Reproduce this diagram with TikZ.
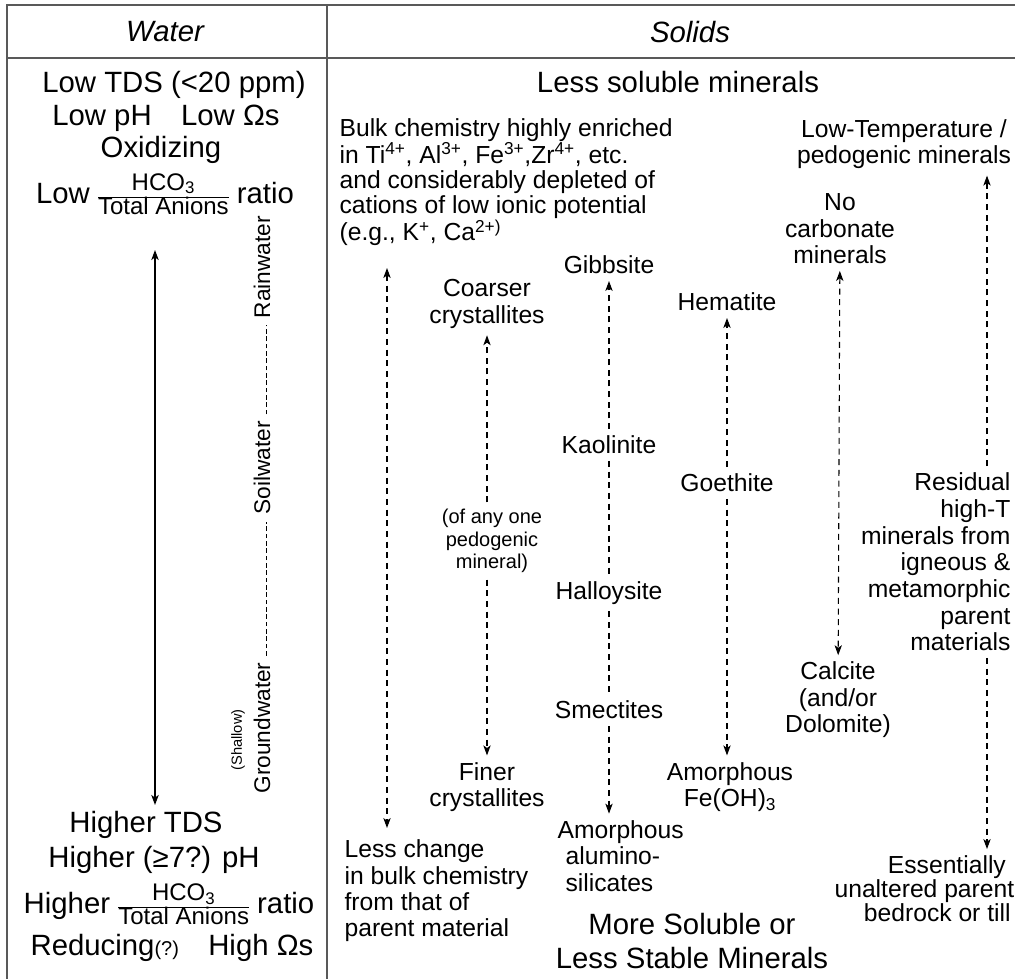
\documentclass[tikz,border=0pt]{standalone}
\usepackage{fontspec}
\setmainfont{Liberation Sans}
\usetikzlibrary{arrows.meta,positioning}
\newcommand{\hcofrac}{{\fontsize{18}{19}\selectfont\renewcommand{\arraystretch}{0.85}%
  \begin{tabular}{@{}c@{}}HCO\textsubscript{3}\\\hline Total Anions\end{tabular}}}

\begin{document}
\begin{tikzpicture}[x=0.75pt,y=-0.75pt,
  >={Stealth[length=7.5pt,width=5.5pt,inset=2pt]},
  every node/.style={inner sep=1pt, align=center},
  big/.style={font=\fontsize{22}{25}\selectfont},
  mid/.style={font=\fontsize{18.5}{19.8}\selectfont},
  small/.style={font=\fontsize{15}{16.8}\selectfont},
  rot/.style={rotate=90, font=\fontsize{17}{19}\selectfont},
  frame/.style={draw=black!65, line width=1.4pt},
  solidarrow/.style={<->, line width=1.1pt},
  dashline/.style={line width=0.8pt, dash pattern=on 4.5pt off 3.5pt},
  dashtip/.style={dashline, ->, shorten <=4pt, shorten >=4pt},
  dashboth/.style={dashline, <->, shorten <=4pt, shorten >=4pt},
  hyphens/.style={line width=1.2pt, dash pattern=on 3.5pt off 2pt, shorten <=4pt, shorten >=4pt}]
  \useasboundingbox (0,0) rectangle (1015,979);
  \fill[white] (0,0) rectangle (1015,979);
  \clip (0,0) rectangle (1015,979);

  \draw[frame] (7,979) -- (7,5) -- (1015,5);
  \draw[frame] (7,58) -- (1015,58);
  \draw[frame] (327,5) -- (327,979);
  \node[big] (water) at (165,32) {\itshape Water};
  \node[big] (solids) at (690,32) {\itshape Solids};

  \node[big, anchor=base] (lowtds) at (174,92) {Low TDS (<20 ppm)};
  \node[big, anchor=base] (lowph) at (166,125) {Low pH\quad Low Ωs};
  \node[big, anchor=base] (oxid) at (161,157) {Oxidizing};
  \node[big, anchor=base] (lowrat) at (165,203) {Low \hcofrac\ ratio};
  \coordinate (wtop) at (155,250);
  \coordinate (wbot) at (155,805);
  \draw[solidarrow] (wtop) -- (wbot);

  \node[rot] (rain) at (262,267) {Rainwater};
  \node[rot] (soil) at (262,468) {Soilwater};
  \node[rot] (ground) at (262,728) {Groundwater};
  \node[rot, font=\fontsize{11}{12}\selectfont] (shallow) at (238,740) {(Shallow)};
  \draw[hyphens] (ground.mid east) -- (soil.mid west);
  \draw[hyphens] (soil.mid east) -- (rain.mid west);

  \node[big, anchor=base] (hitds) at (146,832) {Higher TDS};
  \node[big, anchor=base] (hiph) at (154,867) {Higher (≥7?) pH};
  \node[big, anchor=base] (hirat) at (169,913) {Higher \hcofrac\ ratio};
  \node[big, anchor=base] (reduc) at (172,955) {Reducing{\fontsize{15}{17}\selectfont(?)}\quad High Ωs};

  \node[big] (lesssol) at (678,82) {Less soluble minerals};
  \node[mid, font=\fontsize{18.5}{18.75}\selectfont, anchor=west, align=left] (bulk) at (338,182)
    {Bulk chemistry highly enriched\\in Ti\textsuperscript{4+}, Al\textsuperscript{3+}, Fe\textsuperscript{3+},Zr\textsuperscript{4+}, etc.\\and considerably depleted of\\cations of low ionic potential\\(e.g., K\textsuperscript{+}, Ca\textsuperscript{2+)}};
  \node[mid, anchor=west, align=left] (lesschg) at (343,891) {Less change\\in bulk chemistry\\from that of\\parent material};
  \coordinate (atop) at (387,268);
  \coordinate (abot) at (387,828);
  \draw[dashboth, shorten <=0pt, shorten >=0pt] (atop) -- (abot);

  \node[mid] (coarse) at (487,304) {Coarser\\crystallites};
  \node[small] (anyone) at (492,541) {(of any one\\pedogenic\\mineral)};
  \node[mid] (finer) at (487,787) {Finer\\crystallites};
  \draw[dashtip] (anyone.north -| coarse) -- (coarse);
  \draw[dashtip] (anyone.south -| finer) -- (finer);

  \node[mid] (gibb) at (609,265) {Gibbsite};
  \node[mid] (kaol) at (609,445) {Kaolinite};
  \node[mid] (hall) at (609,593) {Halloysite};
  \node[mid] (smec) at (609,710) {Smectites};
  \node[mid, anchor=west, align=left] (amal) at (556,856) {Amorphous\\\hspace*{6pt}alumino-\\\hspace*{6pt}silicates};
  \draw[dashtip] (kaol) -- (gibb);
  \draw[dashline, shorten <=4pt, shorten >=4pt] (kaol) -- (hall);
  \draw[dashline, shorten <=4pt, shorten >=4pt] (hall) -- (smec);
  \draw[dashtip] (smec) -- (smec |- amal.north);

  \node[mid] (hema) at (727,302) {Hematite};
  \node[mid] (goet) at (727,483) {Goethite};
  \node[mid] (amfe) at (730,787) {Amorphous\\Fe(OH)\textsubscript{3}};
  \draw[dashtip] (goet) -- (hema);
  \draw[dashtip] (goet) -- (goet |- amfe.north);

  \node[mid] (nocarb) at (840,229) {No\\carbonate\\minerals};
  \node[mid] (calc) at (838,700) {Calcite\\(and/or\\Dolomite)};
  \draw[dashboth] (nocarb) -- (calc);

  \node[mid] (lowtemp) at (904,144) {Low-Temperature /\\pedogenic minerals};
  \node[mid, font=\fontsize{18.5}{20}\selectfont, anchor=east, align=right] (resid) at (1012,562)
    {Residual\\high-T\\minerals from\\igneous \&\\metamorphic\\parent\\materials};
  \node[mid, font=\fontsize{18.5}{18}\selectfont, anchor=west, align=left] (essent) at (833,889)
    {\hspace*{40pt}Essentially\\unaltered parent\\\hspace*{22pt}bedrock or till};
  \coordinate (colF) at (987,0);
  \draw[dashtip] (resid.north -| colF) -- (lowtemp.south -| colF);
  \draw[dashtip] (resid.south -| colF) -- (essent.north -| colF);

  \node[big] (moresol) at (692,941) {More Soluble or\\Less Stable Minerals};
\end{tikzpicture}
\end{document}
